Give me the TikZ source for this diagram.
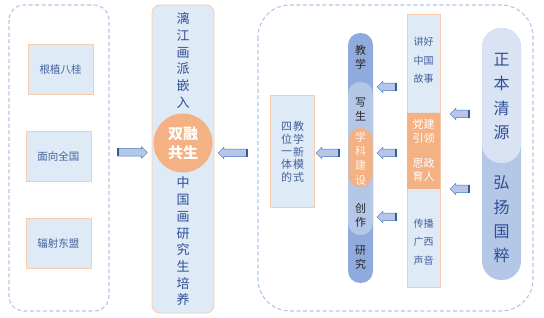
\documentclass[tikz,border=0pt]{standalone}
\usepackage{fontspec}
\newfontfamily\cjk{Noto Sans CJK SC}
\usetikzlibrary{positioning,shapes.arrows,shapes.misc}
\definecolor{clPale}{HTML}{DEEAF6}
\definecolor{clEdge}{HTML}{F8CBAD}
\definecolor{clDash}{HTML}{B4C7E7}
\definecolor{clOrange}{HTML}{F4B183}
\definecolor{clBar}{HTML}{8FAADC}
\definecolor{clBarLight}{HTML}{B4C7E7}
\definecolor{clInk}{HTML}{2F4F96}
\definecolor{clText}{HTML}{44609E}
\definecolor{clArrow}{HTML}{4472C4}
\definecolor{clPillTop}{HTML}{DAE3F3}
\definecolor{clPillBot}{HTML}{B4C7E7}
\tikzset{
  frame/.style={draw=clDash, dash pattern=on 4pt off 2.5pt, line width=1.1pt},
  card/.style={rectangle, draw=clEdge, fill=clPale, line width=0.8pt, inner sep=0pt,
               text=clText, font=\cjk\fontsize{10.5}{12}\selectfont},
  brush/.style={align=center, text=clInk, inner sep=0pt, font=\cjk\fontsize{13}{16.7}\selectfont},
  pill/.style={rectangle, rounded corners=12pt, inner sep=0pt, minimum width=25pt},
  bartext/.style={align=center, inner sep=0pt, text=black!85, font=\cjk\fontsize{11}{14}\selectfont},
  sidetext/.style={align=center, inner sep=0pt, text=clText, font=\cjk\fontsize{10}{18.5}\selectfont},
  blockarrow/.style={single arrow, draw=clArrow, fill=clBarLight, line width=0.5pt, inner sep=3.5pt,
                     single arrow head extend=2pt, single arrow head indent=0pt},
  toleft/.style={shape border rotate=180},
}
\begin{document}
\begin{tikzpicture}[x=1pt, y=-1pt]
  \useasboundingbox (0,0) rectangle (544,318);
  % left group
  \draw[frame, rounded corners=15pt] (9,5) rectangle (109,311);
  \node[card, minimum width=65pt, minimum height=50pt] (root) at (60.5,69) {根植八桂};
  \node[card, minimum width=65pt, minimum height=50pt] (nation) at (58.5,156) {面向全国};
  \node[card, minimum width=65pt, minimum height=50pt] (asean) at (58.5,243) {辐射东盟};
  % middle column
  \node[card, rounded corners=8pt, minimum width=62pt, minimum height=308pt] (mid) at (183,159) {};
  \node[brush] (lijiang) at (183,60.5) {漓\\江\\画\\派\\嵌\\入};
  \node[circle, fill=clOrange, minimum size=59pt, inner sep=0pt, text=white, align=center,
        font=\cjk\bfseries\fontsize{15}{19}\selectfont] (core) at (183,143) {双融\\共生};
  \node[brush] (grad) at (183,241.5) {中\\国\\画\\研\\究\\生\\培\\养};
  % right group
  \draw[frame, rounded corners=32pt] (258,5) rectangle (533,311);
  \node[card, minimum width=44pt, minimum height=112pt] (mode) at (292,151) {};
  \node[align=center, inner sep=0pt, text=clText, font=\cjk\fontsize{11}{12.7}\selectfont] (modeR) at (298.5,152) {教\\学\\新\\模\\式};
  \node[align=center, inner sep=0pt, text=clText, font=\cjk\fontsize{11}{12.7}\selectfont] (modeL) at (286.5,152) {四\\位\\一\\体\\的};
  \node[pill, fill=clBar, minimum height=250pt] (bar) at (360.5,158) {};
  \node[pill, fill=clBarLight, minimum height=153pt] (barmid) at (360.5,158.5) {};
  \node[pill, fill=clOrange, minimum width=24pt, minimum height=59pt] (barcore) at (360.5,157.5) {};
  \node[bartext] (teach) at (360.5,57.5) {教\\学};
  \node[bartext] (sketch) at (360.5,109.5) {写\\生};
  \node[bartext, text=white!92!orange, font=\cjk\fontsize{11}{14.3}\selectfont] (disc) at (360.5,158.5) {学\\科\\建\\设};
  \node[bartext] (create) at (360.5,215) {创\\作};
  \node[bartext] (study) at (360.5,257.5) {研\\究};
  \node[card, minimum width=33pt, minimum height=273pt] (story) at (423.5,150.5) {};
  \node[sidetext] (tell) at (423.5,60.5) {讲好\\中国\\故事};
  \node[chamfered rectangle, chamfered rectangle corners={north east,south west},
        chamfered rectangle xsep=5pt, chamfered rectangle ysep=5pt, fill=clOrange,
        inner sep=0pt, minimum width=33pt, minimum height=76pt] (party) at (423.5,151) {};
  \node[sidetext, text=white, font=\cjk\fontsize{11}{13.5}\selectfont] (lead) at (423.5,131.5) {党建\\引领};
  \node[sidetext, text=white, font=\cjk\fontsize{11}{13.5}\selectfont] (edu) at (423.5,170) {思政\\育人};
  \node[sidetext] (voice) at (423.5,242) {传播\\广西\\声音};
  \node[pill, fill=clPillBot, rounded corners=19pt, minimum width=39pt, minimum height=252pt] (pill) at (501.5,154) {};
  \node[pill, fill=clPillTop, rounded corners=19pt, minimum width=39pt, minimum height=135pt] (pilltop) at (501.5,95.5) {};
  \node[brush, font=\cjk\fontsize{16}{24.3}\selectfont] (source) at (501.5,96.5) {正\\本\\清\\源};
  \node[brush, font=\cjk\fontsize{16}{24.3}\selectfont] (carry) at (501.5,219.5) {弘\\扬\\国\\粹};
  % block arrows
  \node[blockarrow, minimum height=29pt] (a1) at (131,152.5) {};
  \node[blockarrow, toleft, minimum height=29pt] (a2) at (234.5,153) {};
  \node[blockarrow, toleft, minimum height=23pt] (a3) at (329.5,153) {};
  \node[blockarrow, toleft, minimum height=19pt] (a4) at (388.5,87) {};
  \node[blockarrow, toleft, minimum height=19pt] (a5) at (388.5,153) {};
  \node[blockarrow, toleft, minimum height=19pt] (a6) at (388.5,217) {};
  \node[blockarrow, toleft, minimum height=19pt] (a7) at (461.5,114) {};
  \node[blockarrow, toleft, minimum height=19pt] (a8) at (461.5,189) {};
  \foreach \a in {a1,a2,a3,a4,a5,a6,a7,a8}
    \draw[clArrow!80!black, line width=2pt] (\a.before tail) -- (\a.after tail);
\end{tikzpicture}
\end{document}
